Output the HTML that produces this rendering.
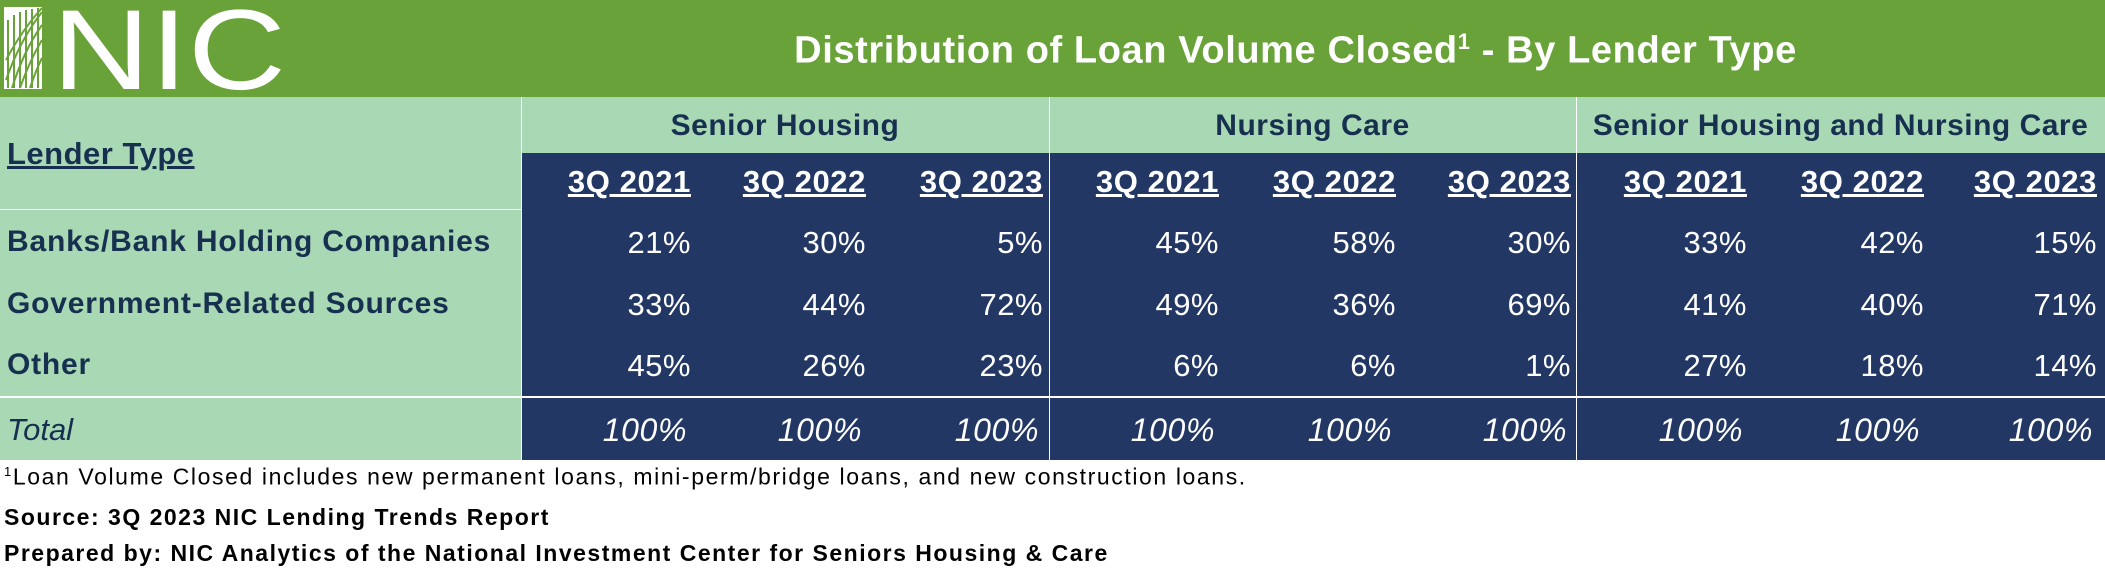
<!DOCTYPE html>
<html><head><meta charset="utf-8"><style>
body{margin:0;width:2105px;height:573px;position:relative;background:#fff;font-family:"Liberation Sans",sans-serif;overflow:hidden}
div{position:absolute}
.t{white-space:nowrap;line-height:1}
.r{text-align:right}
.w{color:#fff}
.n{color:#17304f;font-weight:bold}
</style></head><body>
<div style="left:0;top:0;width:2105px;height:97px;background:#6aa23a"></div>
<svg style="position:absolute;left:0;top:0" width="300" height="97">
<rect x="4" y="7" width="38" height="82" fill="#fff"/>
<g stroke="#6aa23a" stroke-width="2" fill="none">
<path d="M6 80 Q20 40 42 12"/><path d="M6 60 Q22 30 42 8"/><path d="M12 88 Q24 50 42 25"/>
<path d="M20 88 Q30 60 42 40"/><path d="M30 88 Q36 70 42 58"/>
<path d="M8 20 L8 88 M14 15 L14 88 M20 12 L20 88 M26 10 L26 88 M32 9 L32 88 M38 8 L38 88"/>
</g>
<text x="52" y="89" font-family="Liberation Sans" font-size="114" fill="#fff" textLength="234" lengthAdjust="spacingAndGlyphs">NIC</text>
</svg>
<div class="t w" style="left:0;width:2105px;padding-left:486px;box-sizing:border-box;text-align:center;top:31px;font-size:38px;font-weight:bold;letter-spacing:0.6px">Distribution of Loan Volume Closed<sup style="font-size:22px">1</sup> - By Lender Type</div>

<div style="left:0;top:97px;width:521px;height:363px;background:#a9d8b5"></div>
<div style="left:521px;top:97px;width:1584px;height:56px;background:#a9d8b5"></div>
<div style="left:521px;top:153px;width:1584px;height:307px;background:#223763"></div>
<div style="left:0;top:209px;width:521px;height:1px;background:#fff"></div>
<div style="left:0;top:396px;width:2105px;height:2px;background:#fff"></div>
<div style="left:521px;top:97px;width:1px;height:363px;background:#fff"></div>
<div style="left:1049px;top:97px;width:1px;height:363px;background:#fff"></div>
<div style="left:1576px;top:97px;width:1px;height:363px;background:#fff"></div>

<div class="t n" style="left:7px;top:138px;font-size:31px;letter-spacing:0.5px;text-decoration:underline">Lender Type</div>
<div class="t n" style="left:521px;width:528px;text-align:center;top:111px;font-size:30px;letter-spacing:0.5px">Senior Housing</div>
<div class="t n" style="left:1049px;width:527px;text-align:center;top:111px;font-size:30px;letter-spacing:0.5px">Nursing Care</div>
<div class="t n" style="left:1576px;width:529px;text-align:center;top:111px;font-size:30px;letter-spacing:0.5px">Senior Housing and Nursing Care</div>

<div class="t n" style="left:7px;top:227px;font-size:30px;letter-spacing:0.8px">Banks/Bank Holding Companies</div>
<div class="t n" style="left:7px;top:289px;font-size:30px;letter-spacing:0.8px">Government-Related Sources</div>
<div class="t n" style="left:7px;top:350px;font-size:30px;letter-spacing:0.8px">Other</div>
<div class="t" style="left:7px;top:414px;font-size:31px;font-style:italic;color:#17304f">Total</div>

<div id="cols"></div>
<script>
var rights=[691,866,1043,1219,1396,1571,1747,1924,2097];
var hdr=["3Q 2021","3Q 2022","3Q 2023"];
var data=[["21%","30%","5%","45%","58%","30%","33%","42%","15%"],["33%","44%","72%","49%","36%","69%","41%","40%","71%"],["45%","26%","23%","6%","6%","1%","27%","18%","14%"]];
var tops=[227,289,350];var h="";
for(var i=0;i<9;i++){var r=2105-rights[i];
h+='<div class="t r w" style="right:'+r+'px;top:166px;font-size:31px;letter-spacing:0.6px;font-weight:bold;text-decoration:underline">'+hdr[i%3]+'</div>';
for(var j=0;j<3;j++)h+='<div class="t r w" style="right:'+r+'px;top:'+tops[j]+'px;font-size:31px;letter-spacing:0.5px">'+data[j][i]+'</div>';
h+='<div class="t r w" style="right:'+(r+4)+'px;top:414px;font-size:32px;letter-spacing:0.6px;font-style:italic">100%</div>';}
document.getElementById("cols").outerHTML=h;
</script>
<div class="t" style="left:4px;top:465px;font-size:23px;letter-spacing:1.6px;color:#000"><sup style="font-size:13px">1</sup>Loan Volume Closed includes new permanent loans, mini-perm/bridge loans, and new construction loans.</div>
<div class="t" style="left:4px;top:506px;font-size:23px;letter-spacing:1.5px;font-weight:bold;color:#000">Source: 3Q 2023 NIC Lending Trends Report</div>
<div class="t" style="left:4px;top:542px;font-size:23px;letter-spacing:1.5px;font-weight:bold;color:#000">Prepared by: NIC Analytics of the National Investment Center for Seniors Housing &amp; Care</div>
</body></html>
